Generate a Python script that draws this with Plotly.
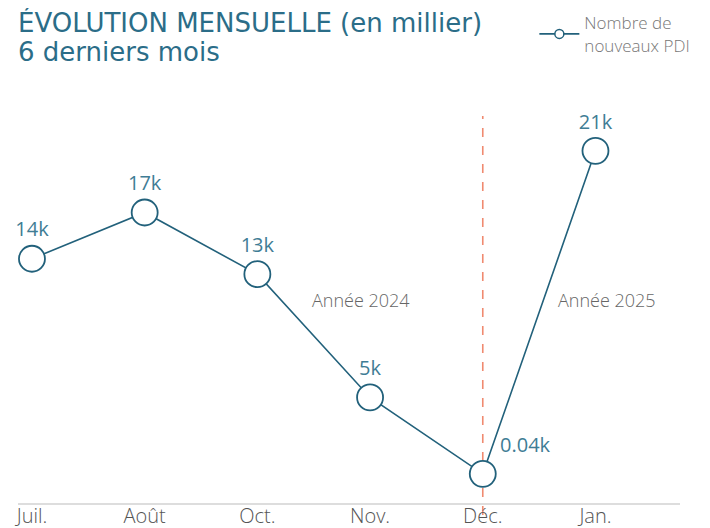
import plotly.graph_objects as go

months = ["Juil.", "Août", "Oct.", "Nov.", "Déc.", "Jan."]
values = [14, 17, 13, 5, 0.04, 21]
labels = ["14k", "17k", "13k", "5k", "0.04k", "21k"]
positions = ["top center", "top center", "top center", "top center", "top right", "top center"]
series_name = "Nombre de<br>nouveaux PDI"
title_line1 = "ÉVOLUTION MENSUELLE (en millier)"
title_line2 = "6 derniers mois"

teal = "#22617b"
label_teal = "#3f7d95"
gray = "#555555"
font = "'Open Sans', sans-serif"
title_font = "'DejaVu Sans', sans-serif"

fig = go.Figure()
fig.add_trace(go.Scatter(
    x=months, y=values, mode="lines+markers+text",
    name=series_name, showlegend=False,
    text=labels, textposition=positions,
    textfont=dict(size=20, color=label_teal, family=font),
    line=dict(color=teal, width=1.6),
    marker=dict(size=26, color="white", line=dict(color=teal, width=1.8)),
    cliponaxis=False,
))
# legend entry with a small marker
fig.add_trace(go.Scatter(
    x=[None], y=[None], mode="lines+markers", name=series_name,
    line=dict(color=teal, width=1.6),
    marker=dict(size=9, color="white", line=dict(color=teal, width=1.5)),
))

fig.add_shape(type="line", xref="x", yref="paper", x0="Déc.", x1="Déc.", y0=-0.03, y1=0.96,
              line=dict(color="#f08a70", width=1.6, dash="dash"), layer="below")

fig.add_annotation(x=3, y=11.3, xref="x", yref="y", text="Année 2024", showarrow=False,
                   xshift=-9, font=dict(size=18, color="#666666", family=font, weight=300))
fig.add_annotation(x=5, y=11.3, xref="x", yref="y", text="Année 2025", showarrow=False,
                   xshift=12, font=dict(size=18, color="#666666", family=font, weight=300))

fig.add_annotation(x=0, xref="paper", xanchor="left", xshift=-2,
                   y=1.1935, yref="paper", yanchor="middle",
                   text=title_line1, showarrow=False, align="left",
                   font=dict(size=26, color="#2b6d88", family=title_font))
fig.add_annotation(x=0, xref="paper", xanchor="left", xshift=-2,
                   y=1.119, yref="paper", yanchor="middle",
                   text=title_line2, showarrow=False, align="left",
                   font=dict(size=26, color="#2b6d88", family=title_font))

fig.update_layout(
    width=702, height=520,
    margin=dict(l=10, r=30, t=92, b=25, autoexpand=False),
    paper_bgcolor="white", plot_bgcolor="white",
    showlegend=True,
    legend=dict(x=0.78, xanchor="left", y=1.235, yanchor="top",
                font=dict(size=17, color="#777777", family=font, weight=300),
                bgcolor="rgba(0,0,0,0)", itemwidth=40),
    xaxis=dict(type="category", range=[-0.124, 5.75], showgrid=False, zeroline=False,
               showline=True, linecolor="#dddddd", linewidth=2, ticks="",
               ticklabelstandoff=-6,
               tickfont=dict(size=20, color=gray, family=font, weight=300)),
    yaxis=dict(range=[-1.85, 24.3], visible=False, showgrid=False, zeroline=False),
)

fig.write_html("out.html")
